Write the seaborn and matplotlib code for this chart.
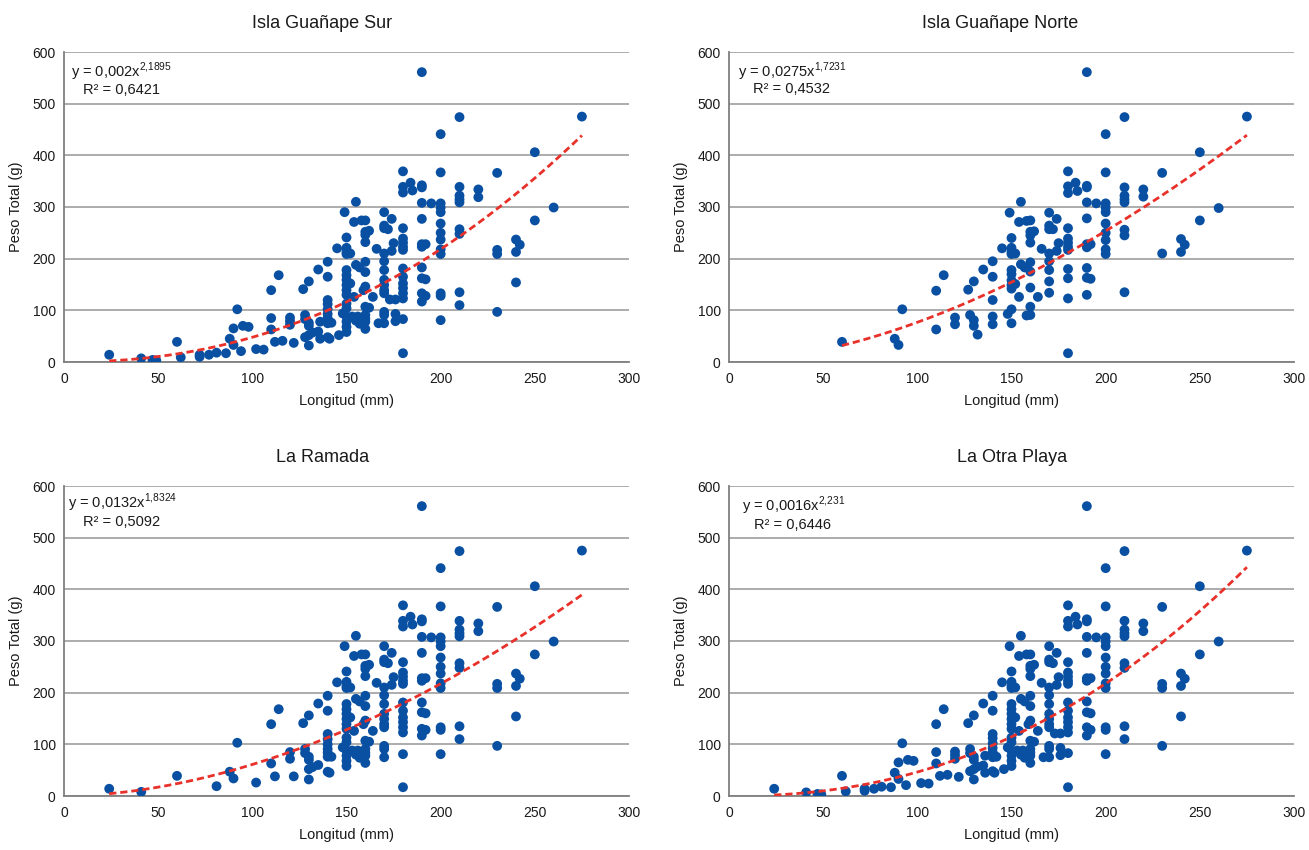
import matplotlib
matplotlib.use("Agg")
import matplotlib.pyplot as plt
import seaborn as sns
import numpy as np
import pandas as pd

# ---------------- data ----------------
titles = ["Isla Guañape Sur", "Isla Guañape Norte", "La Ramada", "La Otra Playa"]
coef_a = [0.002, 0.0275, 0.0132, 0.0016]
coef_b = [2.1895, 1.7231, 1.8324, 2.231]
coef_a_txt = ["0,002", "0,0275", "0,0132", "0,0016"]
coef_b_txt = ["2{,}1895", "1{,}7231", "1{,}8324", "2{,}231"]
r2_txt = ["0,6421", "0,4532", "0,5092", "0,6446"]
x_ticks = [0, 50, 100, 150, 200, 250, 300]
y_ticks = [0, 100, 200, 300, 400, 500, 600]

# Isla Guañape Sur (same sample drawn in La Otra Playa)
sur_x = [24, 41, 47, 49, 60, 62, 72, 72, 77, 81, 86, 88, 90, 90, 92, 94, 95, 98, 102, 106,
         110, 110, 110, 112, 114, 116, 120, 120, 120, 122, 127, 128, 128, 128,
         130, 130, 130, 130, 130, 132, 135, 135, 136, 136,
         140, 140, 140, 140, 140, 140, 140, 140, 140, 141, 142, 145, 146, 148, 149,
         150, 150, 150, 150, 150, 150, 150, 150, 150, 150, 150, 150, 150, 150, 150, 150,
         152, 152, 153, 154, 154, 155, 155, 155, 156, 157, 157, 157, 158, 159,
         160, 160, 160, 160, 160, 160, 160, 160, 160, 160, 160, 160,
         162, 162, 164, 166, 167,
         170, 170, 170, 170, 170, 170, 170, 170, 170, 170, 170, 170, 170,
         172, 173, 174, 174, 175, 176, 176, 176,
         180, 180, 180, 180, 180, 180, 180, 180, 180, 180, 180, 180, 180, 180, 180, 180,
         184, 185,
         190, 190, 190, 190, 190, 190, 190, 190, 190, 190, 190, 192, 192, 192, 195,
         200, 200, 200, 200, 200, 200, 200, 200, 200, 200, 200, 200, 200,
         210, 210, 210, 210, 210, 210, 210, 210, 210,
         220, 220, 230, 230, 230, 230, 240, 240, 240, 242, 250, 250, 260, 275]
sur_y = [14, 7, 4, 3, 39, 9, 14, 10, 14, 18, 17, 45, 65, 33, 102, 21, 70, 68, 25, 24,
         139, 85, 63, 39, 168, 41, 86, 79, 72, 37, 141, 91, 83, 48,
         156, 76, 70, 52, 32, 57, 179, 59, 78, 45,
         194, 165, 120, 112, 102, 93, 85, 75, 48, 45, 76, 220, 52, 94, 290,
         241, 221, 213, 209, 178, 168, 159, 149, 139, 130, 113, 104, 88, 78, 68, 58,
         210, 152, 88, 271, 126, 310, 188, 80, 88, 183, 85, 74, 274, 139,
         274, 252, 246, 232, 194, 174, 146, 107, 91, 84, 78, 64,
         254, 105, 126, 219, 75,
         290, 264, 259, 210, 195, 178, 159, 149, 139, 133, 97, 91, 75,
         257, 121, 277, 215, 230, 121, 93, 79,
         369, 339, 328, 259, 239, 231, 223, 217, 181, 165, 152, 143, 133, 123, 83, 17,
         347, 332,
         561, 342, 338, 308, 277, 228, 223, 183, 162, 133, 117, 228, 160, 128, 307,
         441, 367, 307, 299, 290, 268, 250, 237, 218, 209, 133, 128, 81,
         474, 339, 322, 315, 309, 257, 248, 135, 110,
         334, 319, 366, 217, 209, 97, 237, 213, 154, 227, 406, 274, 299, 475]

# Isla Guañape Norte
norte_x = [60, 88, 90, 92, 110, 110, 114, 120, 120, 127, 128, 130, 130, 130, 132, 135,
           140, 140, 140, 140, 140, 145, 148, 149,
           150, 150, 150, 150, 150, 150, 150, 150, 150, 150, 150, 152, 152,
           154, 154, 155, 155, 157, 158, 158,
           160, 160, 160, 160, 160, 160, 160, 160, 160, 162, 164, 166,
           170, 170, 170, 170, 170, 170, 170, 170, 172, 174, 174, 175,
           180, 180, 180, 180, 180, 180, 180, 180, 180, 180, 180, 180, 184, 185,
           190, 190, 190, 190, 190, 190, 190, 190, 190, 190, 192, 192, 195,
           200, 200, 200, 200, 200, 200, 200, 200, 200, 200,
           210, 210, 210, 210, 210, 210, 210, 210,
           220, 220, 230, 230, 240, 240, 242, 250, 250, 260, 275]
norte_y = [39, 45, 33, 102, 138, 63, 168, 86, 73, 140, 91, 156, 81, 70, 53, 179,
           195, 165, 120, 88, 73, 220, 93, 289,
           240, 221, 213, 209, 178, 170, 158, 149, 142, 102, 75, 210, 151,
           271, 126, 310, 189, 183, 273, 90,
           274, 252, 245, 231, 193, 175, 144, 107, 91, 253, 126, 219,
           289, 264, 257, 210, 195, 178, 156, 134, 257, 277, 215, 230,
           369, 340, 327, 259, 239, 231, 223, 217, 180, 162, 123, 17, 347, 331,
           561, 341, 338, 309, 278, 228, 222, 182, 163, 130, 228, 161, 307,
           441, 367, 307, 299, 290, 268, 250, 236, 218, 209,
           474, 338, 322, 315, 309, 256, 245, 135,
           334, 320, 366, 210, 238, 213, 227, 406, 274, 298, 475]

# La Ramada
ramada_x = [24, 41, 60, 81, 88, 90, 92, 102,
            110, 110, 112, 114, 120, 120, 122, 127, 128, 128,
            130, 130, 130, 130, 130, 132, 135, 135,
            140, 140, 140, 140, 140, 140, 140, 140, 140, 141, 142, 145, 148, 149,
            150, 150, 150, 150, 150, 150, 150, 150, 150, 150, 150, 150, 150, 150, 150, 150,
            152, 152, 153, 154, 154, 155, 155, 155, 156, 157, 157, 157, 158, 159,
            160, 160, 160, 160, 160, 160, 160, 160, 160, 160, 160, 160,
            162, 162, 164, 166,
            170, 170, 170, 170, 170, 170, 170, 170, 170, 170, 170, 170, 170,
            172, 174, 174, 175,
            180, 180, 180, 180, 180, 180, 180, 180, 180, 180, 180, 180, 180, 180, 180, 180,
            184, 185,
            190, 190, 190, 190, 190, 190, 190, 190, 190, 190, 190, 192, 192, 192, 195,
            200, 200, 200, 200, 200, 200, 200, 200, 200, 200, 200, 200, 200,
            210, 210, 210, 210, 210, 210, 210, 210, 210,
            220, 220, 230, 230, 230, 230, 240, 240, 240, 242, 250, 250, 260, 275]
ramada_y = [14, 8, 39, 19, 47, 34, 103, 26,
            139, 63, 38, 168, 85, 72, 38, 141, 91, 83,
            156, 76, 70, 52, 32, 56, 179, 60,
            194, 165, 120, 110, 100, 91, 84, 76, 47, 45, 76, 220, 94, 290,
            241, 221, 213, 209, 178, 168, 159, 149, 139, 130, 113, 104, 88, 78, 68, 58,
            210, 152, 88, 271, 126, 310, 188, 80, 88, 183, 85, 74, 274, 139,
            274, 252, 246, 232, 194, 174, 146, 107, 91, 84, 78, 64,
            254, 105, 126, 219,
            290, 264, 259, 210, 195, 178, 159, 149, 139, 133, 97, 91, 75,
            257, 277, 215, 230,
            369, 339, 328, 259, 239, 231, 223, 217, 181, 165, 152, 143, 133, 123, 81, 17,
            347, 332,
            561, 342, 338, 308, 277, 228, 223, 181, 162, 130, 117, 228, 160, 128, 307,
            441, 367, 307, 299, 290, 268, 250, 237, 218, 209, 133, 128, 81,
            474, 339, 322, 315, 309, 257, 248, 135, 110,
            334, 319, 366, 217, 209, 97, 237, 213, 154, 227, 406, 274, 299, 475]

panel_x = [sur_x, norte_x, ramada_x, sur_x]
panel_y = [sur_y, norte_y, ramada_y, sur_y]

# ---------------- style ----------------
sns.set_style("white")
plt.rcParams["font.family"] = ["Liberation Sans", "DejaVu Sans"]
plt.rcParams["mathtext.fontset"] = "custom"
plt.rcParams["mathtext.rm"] = "Liberation Sans"

DOT = "#0A50A2"
RED = "#E8312A"
GRID = "#A6A6A6"
SPINE = "#7F7F7F"
TXT = "#1A1A1A"

fig = plt.figure(figsize=(13.09, 8.5), dpi=100)
W, H = 565 / 1309, 310 / 850
lefts = [64 / 1309, 729 / 1309, 64 / 1309, 729 / 1309]
bottoms = [1 - 362 / 850, 1 - 362 / 850, 1 - 796 / 850, 1 - 796 / 850]
title_x = [0.457, 0.480, 0.457, 0.501]
eq_pos = [((0.012, 0.935), (0.033, 0.877)),
          ((0.016, 0.935), (0.042, 0.880)),
          ((0.007, 0.945), (0.034, 0.884)),
          ((0.023, 0.935), (0.044, 0.874))]

for i in range(4):
    ax = fig.add_axes([lefts[i], bottoms[i], W, H])
    df = pd.DataFrame({"x": panel_x[i], "y": panel_y[i]})
    sns.scatterplot(data=df, x="x", y="y", ax=ax, color=DOT, s=50,
                    edgecolor="none", linewidth=0, zorder=3)
    xf = np.linspace(min(panel_x[i]), max(panel_x[i]), 200)
    fit = pd.DataFrame({"x": xf, "y": coef_a[i] * xf ** coef_b[i]})
    sns.lineplot(data=fit, x="x", y="y", ax=ax, color=RED, linewidth=2.0,
                 linestyle=(0, (2.6, 1.4)), estimator=None, sort=False, zorder=4)

    ax.set_xlim(0, 300)
    ax.set_ylim(0, 600)
    ax.set_xticks(x_ticks)
    ax.set_yticks(y_ticks)
    ax.yaxis.grid(True, color=GRID, linewidth=1.3, zorder=0)
    ax.xaxis.grid(False)
    ax.set_axisbelow(True)
    for s in ["top", "right"]:
        ax.spines[s].set_visible(False)
    for s in ["left", "bottom"]:
        ax.spines[s].set_color(SPINE)
        ax.spines[s].set_linewidth(1.3)
    ax.tick_params(axis="both", length=0, labelsize=10, colors=TXT)
    ax.tick_params(axis="x", pad=7)
    ax.tick_params(axis="y", pad=6)
    ax.set_xlabel("Longitud (mm)", fontsize=10.5, color=TXT, labelpad=6)
    ax.set_ylabel("Peso Total (g)", fontsize=10.5, color=TXT, labelpad=7)
    ax.set_title(titles[i], fontsize=13, color=TXT, pad=17, x=title_x[i])

    (x1, y1), (x2, y2) = eq_pos[i]
    ax.text(x1, y1, "y = " + coef_a_txt[i] + "x$^{\\mathregular{" + coef_b_txt[i] + "}}$",
            transform=ax.transAxes, fontsize=10.5, color=TXT, va="center", ha="left")
    ax.text(x2, y2, "R² = " + r2_txt[i], transform=ax.transAxes, fontsize=10.5,
            color=TXT, va="center", ha="left")

fig.savefig("out.png", dpi=100, facecolor="white")
